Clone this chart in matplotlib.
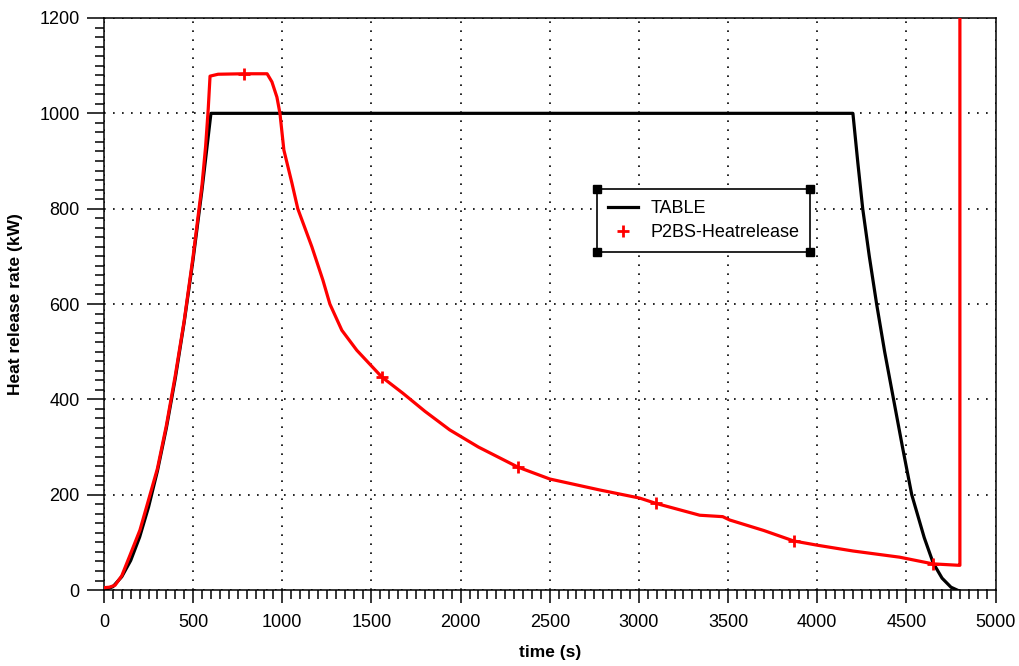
import matplotlib
matplotlib.use("Agg")
import matplotlib.pyplot as plt
from matplotlib.lines import Line2D
from matplotlib.ticker import MultipleLocator

plt.rcParams['font.family'] = ['Liberation Sans', 'DejaVu Sans']

# TABLE (design fire curve)
table_t = [0, 50, 100, 150, 200, 250, 300, 350, 400, 450, 500, 550, 600,
           4200, 4228, 4255, 4292, 4333, 4378, 4428, 4478, 4530, 4600, 4650,
           4700, 4750, 4785]
table_q = [0, 7, 28, 62, 111, 174, 250, 340, 444, 562, 694, 840, 1000,
           1000, 895, 800, 700, 600, 500, 400, 300, 200, 110, 57,
           25, 6, 0]

# P2BS-Heatrelease (simulated)
red_t = [0, 30, 62, 100, 146, 202, 247, 300, 350, 400, 450, 500, 550, 570, 585,
         595, 640, 785, 915, 942, 970, 987, 1009, 1054, 1087, 1166, 1228, 1267,
         1334, 1418, 1558, 1676, 1800, 1939, 2100, 2321, 2500, 2780, 3004, 3094,
         3341, 3470, 3509, 3700, 3868, 4002, 4200, 4462, 4648, 4793, 4800, 4800]
red_q = [5, 6, 10, 30, 73, 126, 185, 255, 345, 450, 565, 700, 850, 930, 1010,
         1078, 1082, 1083, 1083, 1066, 1034, 1000, 923, 854, 800, 720, 650, 600,
         545, 503, 447, 413, 375, 336, 300, 258, 233, 210, 193, 182,
         157, 154, 147, 125, 103, 94, 82, 69, 55, 52, 52, 1300]
red_marker_t = [785, 1558, 2321, 3094, 3868, 4648]

fig = plt.figure(figsize=(10.19, 6.66), dpi=100)
ax = fig.add_axes([0.102, 0.114, 0.875, 0.859])

ax.plot(table_t, table_q, color='black', linewidth=2.3, zorder=3)
ax.plot(red_t, red_q, color='#ff0000', linewidth=2.3, zorder=4,
        marker='+', markersize=9, markeredgewidth=2,
        markevery=[red_t.index(t) for t in red_marker_t])

ax.set_xlim(0, 5000)
ax.set_ylim(0, 1200)
ax.xaxis.set_major_locator(MultipleLocator(500))
ax.xaxis.set_minor_locator(MultipleLocator(50))
ax.yaxis.set_major_locator(MultipleLocator(200))
ax.yaxis.set_minor_locator(MultipleLocator(20))
ax.tick_params(which='both', direction='out', width=1.1, labelsize=13)
ax.tick_params(axis='x', which='major', length=9.5, pad=7.5)
ax.tick_params(axis='y', which='major', length=12, pad=5.5)
ax.tick_params(which='minor', length=6.5)
for s in ax.spines.values():
    s.set_linewidth(1.1)

ax.grid(True, which='major', color='black', linestyle=(0, (1, 4.4)),
        linewidth=1.2)

ax.set_xlabel('time (s)', fontsize=12.5, fontweight='bold', labelpad=10)
ax.set_ylabel('Heat release rate (kW)', fontsize=12.5, fontweight='bold',
              labelpad=12)

handles = [Line2D([], [], color='black', linewidth=2.3),
           Line2D([], [], color='#ff0000', linestyle='none', marker='+',
                  markersize=9, markeredgewidth=2)]
leg = ax.legend(handles, ['TABLE', 'P2BS-Heatrelease'], loc='upper left',
                bbox_to_anchor=(0.553, 0.701), borderaxespad=0,
                fontsize=13, fancybox=False, framealpha=1,
                edgecolor='black', handlelength=1.65, handletextpad=0.7,
                labelspacing=0.4, borderpad=0.6)
leg.get_frame().set_linewidth(1.2)
leg.set_zorder(6)

# black squares on legend corners
fig.canvas.draw()
bb = leg.get_window_extent().transformed(ax.transAxes.inverted())
ax.plot([bb.x0, bb.x1, bb.x0, bb.x1], [bb.y0, bb.y0, bb.y1, bb.y1],
        linestyle='none', marker='s', markersize=6, color='black',
        transform=ax.transAxes, clip_on=False, zorder=7)

fig.savefig('out.png', dpi=100)
